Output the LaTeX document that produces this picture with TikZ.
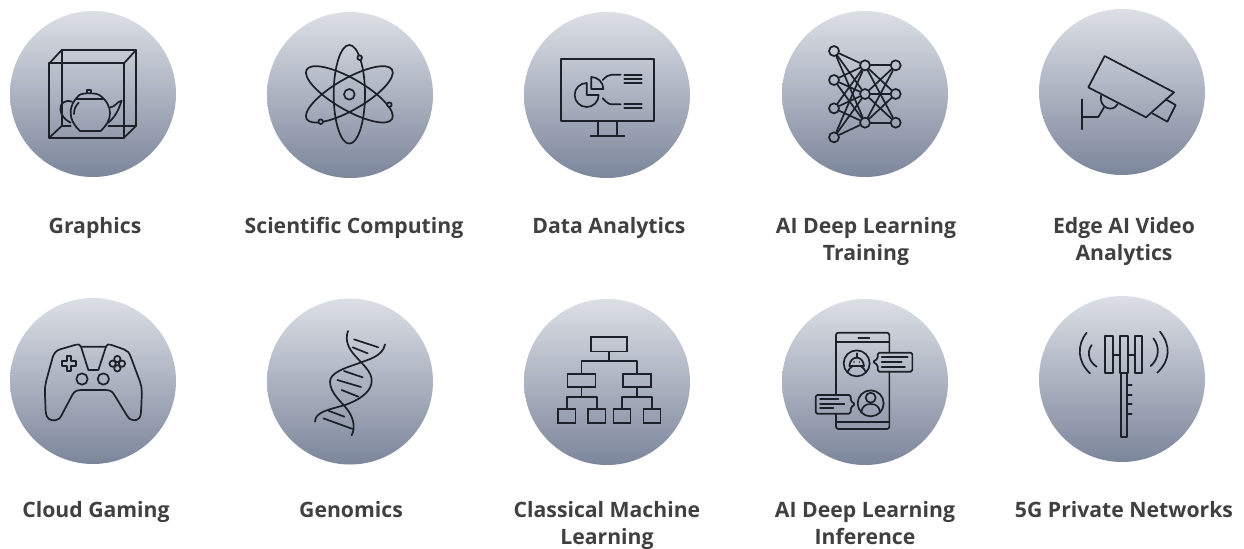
\documentclass[tikz,border=0pt]{standalone}
\usepackage{fontspec}
\setmainfont{Open Sans}
\definecolor{discTop}{HTML}{DCDFE5}
\definecolor{discMid}{HTML}{A0A7B7}
\definecolor{discBot}{HTML}{7C869B}
\definecolor{ink}{HTML}{1C2029}
\definecolor{labelgrey}{HTML}{404040}
\tikzset{
  disc/.style={circle,minimum size=83pt,inner sep=0pt,top color=discTop,middle color=discMid,bottom color=discBot,draw=none},
  lbl/.style={align=center,text=labelgrey,font=\fontsize{10.6}{13.5}\selectfont\bfseries,inner sep=0pt,anchor=base},
  zm/.style n args={2}{xshift=#1*0.5pt,yshift=-#2*0.5pt,x=0.16667pt,y=-0.16667pt},
  ic/.style={draw=ink,line width=0.85pt,line join=round,line cap=round},
  nn/.style={circle,draw=ink,line width=0.85pt,minimum size=5pt,inner sep=0pt},
  treebox/.style={draw=ink,line width=0.85pt,rectangle,inner sep=0pt},
}
\begin{document}
\begin{tikzpicture}[x=0.5pt,y=-0.5pt]
\useasboundingbox (0,0) rectangle (1244,548);
% discs
\node[disc] (d1) at (93,94) {};
\node[disc] (d2) at (350,95) {};
\node[disc] (d3) at (607,95) {};
\node[disc] (d4) at (865,94) {};
\node[disc] (d5) at (1122,92) {};
\node[disc] (d6) at (93,381) {};
\node[disc] (d7) at (350,381.5) {};
\node[disc] (d8) at (607,382) {};
\node[disc] (d9) at (865,382) {};
\node[disc] (d10) at (1122,379) {};
% labels
\node[lbl] (t1) at (95,233) {Graphics};
\node[lbl] (t2) at (354,233) {Scientific Computing};
\node[lbl] (t3) at (609,233) {Data Analytics};
\node[lbl] (t4) at (866,260) {AI Deep Learning\\Training};
\node[lbl] (t5) at (1124,260) {Edge AI Video\\Analytics};
\node[lbl] (t6) at (96,517) {Cloud Gaming};
\node[lbl] (t7) at (351,517) {Genomics};
\node[lbl] (t8) at (607,544) {Classical Machine\\Learning};
\node[lbl] (t9) at (865,544) {AI Deep Learning\\Inference};
\node[lbl] (t10) at (1124,517) {5G Private Networks};
% --- teapot + box, atom
\begin{scope}[zm={0}{0}]
\draw[ic] (148,190) rectangle (372,413);
\draw[ic] (185,378) -- (185,150) -- (408,150) -- (408,378) -- (325,378);
\draw[ic] (212,378) -- (185,378);
\draw[ic] (148,190) -- (185,150) (372,190) -- (408,150) (148,413) -- (185,378) (372,413) -- (408,378);
\draw[ic] (240,393) .. controls (222,375) and (212,360) .. (212,338) .. controls (212,315) and (222,300) .. (238,285) .. controls (250,278) and (285,278) .. (298,285) .. controls (320,300) and (330,320) .. (330,340) .. controls (330,360) and (318,378) .. (302,393) -- cycle;
\draw[ic] (228,296) -- (310,296);
\draw[ic] (262,278) -- (262,270) -- (272,270) -- (272,278);
\draw[ic] (236,308) .. controls (226,318) and (222,328) .. (222,342);
\draw[ic] (216,305) .. controls (195,298) and (180,310) .. (181,328) .. controls (182,345) and (195,360) .. (212,368);
\draw[ic] (330,322) .. controls (345,322) and (350,305) .. (365,302) .. controls (358,320) and (352,345) .. (325,368);
% atom
\draw[ic] (1048,283) ellipse [x radius=47,y radius=148];
\draw[ic,rotate around={30:(1048,283)}] (1048,283) ellipse [x radius=148,y radius=47];
\draw[ic,rotate around={-30:(1048,283)}] (1048,283) ellipse [x radius=148,y radius=47];
\draw[ic] (1048,283) circle [radius=16];
\draw[ic,fill=discMid!75!discTop] (1079,173) circle [radius=7];
\draw[ic,fill=discMid] (1168,314) circle [radius=7];
\draw[ic,fill=discMid!85!discBot] (962,365) circle [radius=7];
\end{scope}
% --- monitor, neural net
\begin{scope}[zm={510}{0}]
\draw[ic] (153,178) rectangle (431,364);
\draw[ic] (265,364) -- (265,408) (320,364) -- (320,408) (242,408) -- (343,408);
\draw[ic] (230,285) -- (266,285) arc (0:270:36) -- cycle;
\draw[ic] (244,267) -- (280,267) arc (0:-90:36) -- cycle;
\draw[ic] (278,240) .. controls (288,230) and (295,224) .. (305,224) -- (332,224);
\draw[ic] (278,295) .. controls (288,305) and (295,313) .. (305,313) -- (332,313);
\draw[ic] (343,224) -- (395,224) (343,237) -- (395,237) (343,250) -- (395,250) (343,312) -- (395,312) (343,325) -- (395,325);
\node[nn] (a1) at (972,153) {};
\node[nn] (a2) at (972,240) {};
\node[nn] (a3) at (972,325) {};
\node[nn] (a4) at (972,412) {};
\node[nn] (b1) at (1065,196) {};
\node[nn] (b2) at (1065,282) {};
\node[nn] (b3) at (1065,368) {};
\node[nn] (c1) at (1157,196) {};
\node[nn] (c2) at (1157,282) {};
\node[nn] (c3) at (1157,368) {};
\foreach \i in {a1,a2,a3,a4} \foreach \j in {b1,b2,b3} \draw[ic] (\i) -- (\j);
\foreach \i in {b1,b2,b3} \foreach \j in {c1,c2,c3} \draw[ic] (\i) -- (\j);
\end{scope}
% --- camera
\begin{scope}[zm={1020}{0}]
\draw[ic] (254,168) -- (462,277) -- (378,352) -- (205,262) -- cycle;
\draw[ic] (437,298) -- (467,315) -- (442,365) -- (397,340);
\draw[ic] (243,287) .. controls (236,322) and (278,340) .. (293,312);
\draw[ic] (186,298) -- (186,388) (186,351) -- (235,351) -- (252,322);
\end{scope}
% --- controller, DNA
\begin{scope}[zm={0}{290}]
\draw[ic] (243,170) .. controls (240,163) and (235,162) .. (228,164) -- (180,178) .. controls (168,182) and (162,190) .. (158,202) -- (138,275) .. controls (133,295) and (135,310) .. (137,365) .. controls (138,385) and (150,392) .. (165,391) .. controls (175,390) and (180,385) .. (185,375) -- (218,313) .. controls (224,303) and (232,300) .. (245,300) -- (315,300) .. controls (328,300) and (336,303) .. (342,313) -- (380,375) .. controls (386,385) and (392,391) .. (402,391) .. controls (415,391) and (423,382) .. (423,365) .. controls (426,310) and (427,295) .. (420,275) -- (392,200) .. controls (388,188) and (382,182) .. (372,178) -- (332,164) .. controls (325,162) and (320,163) .. (318,170) -- cycle;
\draw[ic] (243,170) -- (265,240) -- (295,240) -- (318,170);
\draw[ic] (246,267) circle [radius=17];
\draw[ic] (310,267) circle [radius=17];
\draw[ic] (200,198) -- (214,198) -- (214,213) -- (229,213) -- (229,227) -- (214,227) -- (214,242) -- (200,242) -- (200,227) -- (186,227) -- (186,213) -- (200,213) -- cycle;
\draw[ic] (352,207) circle [radius=9.5];
\draw[ic] (352,235) circle [radius=9.5];
\draw[ic] (338,221) circle [radius=9.5];
\draw[ic] (366,221) circle [radius=9.5];
% DNA
\draw[ic] (1044,123) .. controls (1034,150) and (1045,175) .. (1065,197) .. controls (1090,225) and (1115,245) .. (1115,272) .. controls (1115,300) and (1090,325) .. (1035,345) .. controls (990,358) and (945,365) .. (945,395);
\draw[ic] (1155,163) .. controls (1148,200) and (1105,208) .. (1070,222) .. controls (1030,235) and (990,250) .. (990,275) .. controls (990,310) and (1025,335) .. (1043,360) .. controls (1058,380) and (1068,410) .. (1055,436);
\draw[ic] (1062,148) -- (1135,172) (1058,172) -- (1103,190) (1032,243) -- (1088,262) (1012,270) -- (1083,291) (1025,300) -- (1075,320) (985,362) -- (1033,380) (970,385) -- (1058,417);
\end{scope}
% --- tree, phone
\begin{scope}[zm={510}{290}]
\node[treebox,minimum width=18pt,minimum height=7.2pt] (r) at (298,162.5) {};
\node[treebox,minimum width=13.9pt,minimum height=6.8pt] (m1) at (214.5,271.5) {};
\node[treebox,minimum width=13.9pt,minimum height=6.8pt] (m2) at (381,271.5) {};
\node[treebox,minimum width=8.6pt,minimum height=7pt] (l1) at (170.5,379) {};
\node[treebox,minimum width=8.6pt,minimum height=7pt] (l2) at (260.5,379) {};
\node[treebox,minimum width=8.6pt,minimum height=7pt] (l3) at (336,379) {};
\node[treebox,minimum width=8.6pt,minimum height=7pt] (l4) at (426,379) {};
\coordinate (rj) at (298,214);
\coordinate (m1j) at (214.5,322);
\coordinate (m2j) at (381,322);
\draw[ic] (r.south) -- (rj) (m1.north) |- (rj) -| (m2.north);
\draw[ic] (m1.south) -- (m1j) (l1.north) |- (m1j) -| (l2.north);
\draw[ic] (m2.south) -- (m2j) (l3.north) |- (m2j) -| (l4.north);
% phone
\draw[ic,rounded corners=1.2pt] (978,315) -- (978,128) -- (1138,128) -- (1138,188);
\draw[ic,rounded corners=1.2pt] (1138,245) -- (1138,417) -- (978,417) -- (978,371);
\draw[ic] (980,155) -- (1138,155) (980,397) -- (1138,397) (1045,143) -- (1078,143);
\draw[ic] (1040,220) circle [radius=39];
\draw[ic] (1082,340) circle [radius=39];
\draw[ic,rounded corners=0.8pt] (1103,207) -- (1103,188) -- (1207,188) -- (1207,245) -- (1103,245) -- (1103,225) -- (1088,215) -- cycle;
\draw[ic] (1115,200) -- (1193,200) (1115,217) -- (1175,217) (1115,232) -- (1185,232);
\draw[ic,rounded corners=0.8pt] (1022,333) -- (1022,315) -- (917,315) -- (917,371) -- (1022,371) -- (1022,352) -- (1036,343) -- cycle;
\draw[ic] (930,328) -- (985,328) (930,341) -- (1003,341) (930,354) -- (970,354);
% bot
\draw[ic] (1040,190) -- (1040,203);
\draw[ic] (1018,228) .. controls (1020,210) and (1030,203) .. (1040,203) .. controls (1050,203) and (1060,210) .. (1062,228) -- cycle;
\draw[ic] (1012,247) .. controls (1015,238) and (1022,232) .. (1028,228) (1068,247) .. controls (1065,238) and (1058,232) .. (1052,228);
\fill[ink] (1032,216) circle [radius=2.5] (1048,216) circle [radius=2.5];
% user
\draw[ic] (1082,323) circle [radius=15];
\draw[ic] (1054,367) .. controls (1056,348) and (1068,342) .. (1082,342) .. controls (1096,342) and (1108,348) .. (1110,367);
\end{scope}
% --- tower
\begin{scope}[zm={1020}{290}]
\draw[ic] (254,138) rectangle (278,250);
\draw[ic] (300,138) rectangle (323,250);
\draw[ic] (344,138) rectangle (367,250);
\draw[ic] (278,195) -- (300,195) (323,195) -- (344,195);
\draw[ic] (302,250) -- (302,440) -- (321,440) -- (321,250);
\foreach \yy in {285,315,343,371} \draw[ic] (321,\yy) -- (335,\yy);
\draw[ic] (200,128) .. controls (170,165) and (172,215) .. (210,250);
\draw[ic] (215,165) .. controls (200,185) and (205,215) .. (230,230);
\draw[ic] (420,125) .. controls (452,165) and (452,210) .. (412,248);
\draw[ic] (400,145) .. controls (420,170) and (418,205) .. (392,228);
\end{scope}
\end{tikzpicture}
\end{document}
